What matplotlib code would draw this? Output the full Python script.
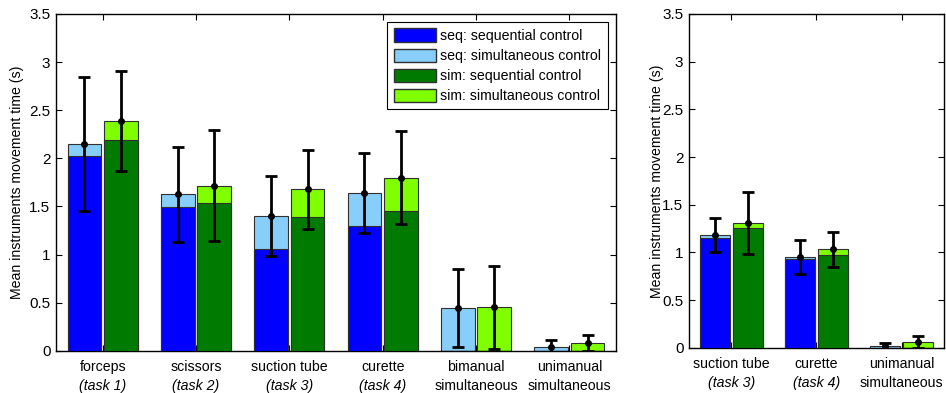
import numpy as np
import matplotlib.pyplot as plt
from matplotlib.patches import Patch

plt.rcParams['font.family'] = ['Liberation Sans', 'DejaVu Sans']
plt.rcParams['font.size'] = 10

# left panel data
left_line1 = ['forceps', 'scissors', 'suction tube', 'curette', 'bimanual', 'unimanual']
left_line2 = ['(task 1)', '(task 2)', '(task 3)', '(task 4)', 'simultaneous', 'simultaneous']
left_italic = [True, True, True, True, False, False]
left_seq_seqctrl = [2.02, 1.49, 1.06, 1.30, 0.0, 0.0]
left_seq_total = [2.15, 1.625, 1.40, 1.64, 0.44, 0.035]
left_seq_err = [0.70, 0.49, 0.42, 0.415, 0.405, 0.073]
left_sim_seqctrl = [2.19, 1.54, 1.387, 1.455, 0.0, 0.0]
left_sim_total = [2.39, 1.715, 1.68, 1.80, 0.45, 0.08]
left_sim_err = [0.52, 0.575, 0.41, 0.485, 0.43, 0.083]

# right panel data
right_line1 = ['suction tube', 'curette', 'unimanual']
right_line2 = ['(task 3)', '(task 4)', 'simultaneous']
right_italic = [True, True, False]
right_seq_seqctrl = [1.148, 0.927, 0.0]
right_seq_total = [1.18, 0.95, 0.02]
right_seq_err = [0.175, 0.18, 0.03]
right_sim_seqctrl = [1.253, 0.97, 0.0]
right_sim_total = [1.31, 1.03, 0.063]
right_sim_err = [0.325, 0.18, 0.063]

c_blue = '#0000FF'
c_lblue = '#87CEFA'
c_green = '#007A00'
c_lgreen = '#7FFF00'
edge = '#303030'


def draw_panel(ax, line1, line2, italic, sseq, stot, serr, mseq, mtot, merr):
    n = len(line1)
    x = np.arange(1, n + 1)
    w = 0.36
    off = 0.195
    sseq = np.array(sseq)
    stot = np.array(stot)
    mseq = np.array(mseq)
    mtot = np.array(mtot)
    ax.bar(x - off, stot, w, color=c_lblue, edgecolor=edge, linewidth=0.8, zorder=2)
    ax.bar(x - off, sseq, w, color=c_blue, edgecolor=edge, linewidth=0.8, zorder=3)
    ax.bar(x + off, mtot, w, color=c_lgreen, edgecolor=edge, linewidth=0.8, zorder=2)
    ax.bar(x + off, mseq, w, color=c_green, edgecolor=edge, linewidth=0.8, zorder=3)
    ax.errorbar(x - off, stot, yerr=serr, fmt='o', color='black', markersize=4,
                elinewidth=2, capsize=4, capthick=2, zorder=5)
    ax.errorbar(x + off, mtot, yerr=merr, fmt='o', color='black', markersize=4,
                elinewidth=2, capsize=4, capthick=2, zorder=5)
    ax.set_xlim(0.5, n + 0.5)
    ax.set_ylim(0, 3.5)
    ax.set_yticks(np.arange(0, 3.51, 0.5))
    ax.set_yticklabels(['0', '0.5', '1', '1.5', '2', '2.5', '3', '3.5'])
    ax.set_xticks(x)
    ax.set_xticklabels([])
    ax.tick_params(direction='in', top=True, right=True, length=4, width=0.8,
                   labelsize=11, colors='black')
    ax.tick_params(axis='y', pad=4)
    for s in ax.spines.values():
        s.set_linewidth(1.0)
    for i in range(n):
        ax.annotate(line1[i], xy=(x[i], 0), xycoords=('data', 'axes fraction'),
                    xytext=(0, -16), textcoords='offset pixels',
                    ha='center', va='center', fontsize=10.2)
        ax.annotate(line2[i], xy=(x[i], 0), xycoords=('data', 'axes fraction'),
                    xytext=(0, -35), textcoords='offset pixels',
                    ha='center', va='center', fontsize=10.2,
                    style='italic' if italic[i] else 'normal')
    ax.set_ylabel('Mean instruments movement time (s)', fontsize=10.2)


fig = plt.figure(figsize=(9.46, 3.93), dpi=100)
ax1 = fig.add_axes([0.0592, 0.1076, 0.592, 0.8568])
ax2 = fig.add_axes([0.7283, 0.1153, 0.2696, 0.8491])

draw_panel(ax1, left_line1, left_line2, left_italic, left_seq_seqctrl, left_seq_total,
           left_seq_err, left_sim_seqctrl, left_sim_total, left_sim_err)
draw_panel(ax2, right_line1, right_line2, right_italic, right_seq_seqctrl, right_seq_total,
           right_seq_err, right_sim_seqctrl, right_sim_total, right_sim_err)

ax1.yaxis.set_label_coords(-0.057, 0.5)
ax2.yaxis.set_label_coords(-0.098, 0.5)

handles = [Patch(facecolor=c_blue, edgecolor=edge), Patch(facecolor=c_lblue, edgecolor=edge),
           Patch(facecolor=c_green, edgecolor=edge), Patch(facecolor=c_lgreen, edgecolor=edge)]
labels = ['seq: sequential control', 'seq: simultaneous control',
          'sim: sequential control', 'sim: simultaneous control']
leg = ax1.legend(handles, labels, loc='upper right', bbox_to_anchor=(0.985, 0.976),
                 fancybox=False, edgecolor='black', framealpha=1, fontsize=10.2,
                 handlelength=3.0, handleheight=1.05, handletextpad=0.3,
                 labelspacing=0.4, borderpad=0.45, borderaxespad=0)
leg.get_frame().set_linewidth(0.8)

fig.savefig('out.png', dpi=100)
